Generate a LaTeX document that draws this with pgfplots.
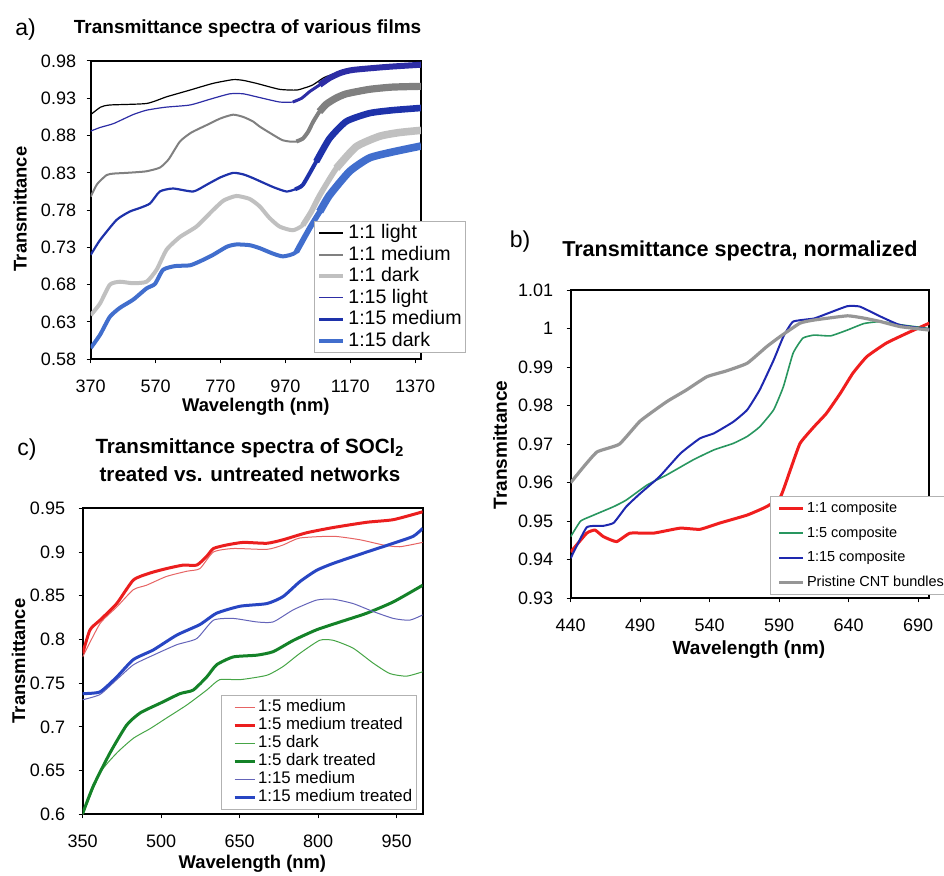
\documentclass[border=0pt]{standalone}
\usepackage{fontspec}
\setmainfont{Liberation Sans}
\usepackage{pgfplots}
\usepackage{pgfplotstable}
\pgfplotsset{compat=1.18}

\definecolor{aGm}{RGB}{128,128,128}
\definecolor{aGd}{RGB}{192,192,192}
\definecolor{aBl}{RGB}{45,45,165}
\definecolor{aBm}{RGB}{30,50,170}
\definecolor{aBd}{RGB}{65,110,205}
\definecolor{bR}{RGB}{240,30,30}
\definecolor{bG}{RGB}{40,150,95}
\definecolor{bB}{RGB}{30,40,175}
\definecolor{bGr}{RGB}{150,150,150}
\definecolor{cRt}{RGB}{230,100,100}
\definecolor{cRT}{RGB}{235,30,30}
\definecolor{cGt}{RGB}{70,165,70}
\definecolor{cGT}{RGB}{20,130,40}
\definecolor{cBt}{RGB}{100,100,185}
\definecolor{cBT}{RGB}{40,70,195}

% ---------- panel a data ----------
\pgfplotstableread{
x y
370 0.908
400 0.918
429 0.921
542 0.923
604 0.932
676 0.941
747 0.950
809 0.955
840 0.954
881 0.950
952 0.942
1004 0.941
1030 0.944
1055 0.948
1090 0.958
1130 0.964
1178 0.968
1281 0.972
1388 0.975
}\aLL
\pgfplotstableread{
x y
370 0.798
390 0.815
419 0.827
440 0.829
481 0.830
540 0.832
583 0.837
610 0.848
645 0.872
680 0.884
727 0.894
770 0.903
809 0.908
840 0.905
870 0.899
891 0.892
932 0.881
960 0.874
983 0.872
1004 0.872
1024 0.876
1040 0.885
1055 0.898
1075 0.912
1096 0.922
1125 0.930
1158 0.936
1229 0.942
1300 0.945
1388 0.946
}\aLM
\pgfplotstableread{
x y
370 0.639
399 0.655
429 0.680
460 0.684
500 0.682
542 0.684
573 0.700
604 0.727
645 0.744
696 0.758
747 0.780
780 0.793
819 0.799
860 0.795
891 0.785
920 0.770
952 0.758
993 0.753
1024 0.760
1050 0.778
1076 0.800
1127 0.836
1188 0.865
1260 0.879
1320 0.884
1388 0.887
}\aLD
\pgfplotstableread{
x y
370 0.886
400 0.891
440 0.896
500 0.908
542 0.914
600 0.918
676 0.921
740 0.929
799 0.936
840 0.936
881 0.932
952 0.925
993 0.925
1020 0.930
1045 0.939
1076 0.948
1106 0.957
1140 0.964
1178 0.968
1281 0.972
1388 0.975
}\aHL
\pgfplotstableread{
x y
370 0.720
399 0.740
450 0.767
490 0.778
522 0.783
553 0.789
583 0.805
624 0.809
686 0.805
727 0.814
770 0.824
809 0.830
840 0.828
870 0.823
932 0.811
973 0.805
1000 0.808
1024 0.814
1065 0.845
1106 0.876
1158 0.899
1229 0.910
1300 0.914
1388 0.917
}\aHM
\pgfplotstableread{
x y
370 0.595
399 0.613
429 0.637
460 0.649
501 0.660
542 0.675
568 0.681
593 0.700
630 0.705
676 0.706
710 0.712
747 0.720
790 0.731
819 0.734
860 0.733
891 0.729
930 0.722
963 0.718
1004 0.724
1045 0.756
1076 0.778
1106 0.800
1168 0.832
1229 0.850
1300 0.858
1388 0.866
}\aHD

% ---------- panel b data ----------
\pgfplotstableread{
x y
440 0.9420
451.5 0.9469
457.5 0.9477
463.5 0.9460
473 0.9447
482.7 0.9469
499.5 0.9469
518.7 0.9482
533 0.9479
547 0.9495
567 0.9516
581 0.9538
591 0.9564
598 0.9633
605 0.9702
615 0.9745
624 0.9780
634 0.9832
643 0.9884
653 0.9927
667 0.9962
682 0.9988
698 1.0014
}\bR
\pgfplotstableread{
x y
440 0.9460
447 0.9500
454 0.9512
471 0.9538
480 0.9555
495 0.9594
509 0.9620
528 0.9659
543 0.9685
557 0.9702
567 0.9720
576 0.9745
586 0.9789
593 0.9849
600 0.9936
607 0.9975
615 0.9983
627 0.9981
639 0.9996
651 1.0013
663 1.0018
679 1.0009
698 1.0000
}\bG
\pgfplotstableread{
x y
440 0.9404
451.5 0.9484
463.5 0.9488
471 0.9496
480 0.9538
490 0.9572
504 0.9616
519 0.9676
533 0.9715
543 0.9728
557 0.9758
567 0.9789
576 0.9841
586 0.9918
593 0.9979
600 1.0018
615 1.0026
624 1.0038
639 1.0058
648 1.0057
663 1.0031
677 1.0009
698 0.9998
}\bB
\pgfplotstableread{
x y
440 0.9600
449 0.9640
459 0.9680
475 0.9700
490 0.9760
509 0.9810
523 0.9840
538 0.9875
552 0.9890
567 0.9910
581 0.9953
591 0.9980
605 1.0014
615 1.0022
639 1.0033
651 1.0027
663 1.0018
677 1.0005
698 0.9996
}\bP

% ---------- panel c data ----------
\pgfplotstableread{
x y
350 0.780
383 0.818
415 0.837
447 0.857
472 0.862
510 0.872
549 0.878
574 0.881
600 0.900
638 0.904
702 0.903
733 0.908
765 0.916
829 0.918
880 0.914
925 0.908
956 0.906
1000 0.911
}\cRthin
\pgfplotstableread{
x y
350 0.784
364 0.811
383 0.822
415 0.841
447 0.868
479 0.876
510 0.881
542 0.885
568 0.885
587 0.895
600 0.904
625 0.908
657 0.911
702 0.910
733 0.914
778 0.922
829 0.928
893 0.934
944 0.937
1000 0.946
}\cRthick
\pgfplotstableread{
x y
350 0.599
383 0.647
415 0.670
447 0.687
479 0.698
510 0.710
549 0.725
587 0.742
612 0.754
651 0.754
702 0.759
733 0.769
765 0.784
803 0.799
829 0.799
867 0.790
905 0.773
937 0.761
969 0.758
1000 0.763
}\cGthin
\pgfplotstableread{
x y
350 0.601
370 0.632
402 0.670
434 0.702
460 0.716
498 0.727
536 0.738
561 0.742
587 0.757
606 0.771
638 0.780
683 0.782
714 0.786
753 0.799
797 0.811
842 0.820
893 0.830
944 0.843
1000 0.862
}\cGthick
\pgfplotstableread{
x y
350 0.731
383 0.737
415 0.754
447 0.771
485 0.782
530 0.794
568 0.801
600 0.822
638 0.824
683 0.820
714 0.820
753 0.834
797 0.845
829 0.846
867 0.841
905 0.832
944 0.824
975 0.822
1000 0.828
}\cBthin
\pgfplotstableread{
x y
350 0.738
383 0.740
415 0.757
447 0.777
485 0.788
530 0.805
574 0.817
606 0.830
651 0.838
702 0.841
733 0.849
765 0.866
797 0.879
829 0.887
893 0.900
944 0.910
982 0.918
1000 0.927
}\cBthick

\pgfplotsset{
  panel/.style={
    scale only axis,
    axis line style={line width=1pt},
    tick align=outside,
    major tick length=2pt,
    tick style={black, line width=0.5pt},
    xtick pos=bottom, ytick pos=left,
    ticklabel style={font=\fontsize{9}{10}\selectfont},
    xticklabel shift=5pt,
    label style={font=\bfseries\fontsize{9.2}{10}\selectfont},
    legend cell align=left,
    every axis plot/.append style={smooth, tension=0.35, line join=round},
  },
}

\begin{document}
\begin{tikzpicture}
\useasboundingbox (0,0) rectangle (472pt,438pt);
\node[font=\fontsize{11.5}{12}\selectfont] at (12.75pt,423pt) {a)};
\node[font=\fontsize{11.5}{12}\selectfont] at (260pt,317pt) {b)};
\node[font=\fontsize{11.5}{12}\selectfont] at (13.5pt,213pt) {c)};

% ================= panel a =================
\begin{axis}[panel,
  at={(45.35pt,258.35pt)}, anchor=south west,
  width=165.15pt, height=149.15pt,
  xmin=370, xmax=1388, ymin=0.58, ymax=0.98,
  xtick={370,570,770,970,1170,1370},
  xticklabels={370,570,770,970,1170,1370},
  ytick={0.58,0.63,0.68,0.73,0.78,0.83,0.88,0.93,0.98},
  yticklabels={0.58,0.63,0.68,0.73,0.78,0.83,0.88,0.93,0.98},
  yticklabel shift=1.8pt,
  xlabel={Wavelength (nm)}, ylabel={Transmittance},
  xlabel style={at={(axis description cs:0.5,-0.16)}, anchor=center},
  ylabel style={at={(axis description cs:-0.214,0.504)}, anchor=center},
  title={Transmittance spectra of various films},
  title style={font=\bfseries\fontsize{9.5}{11}\selectfont, at={(axis description cs:0.475,1.067)}, anchor=center},
  legend style={at={(axis description cs:0.676,0.4636)}, anchor=north west,
    draw=black!30, fill=white, font=\fontsize{9.8}{10}\selectfont,
    inner xsep=1.5pt, inner ysep=0.6pt, row sep=0.3pt, column sep=1pt,
    nodes={inner sep=0.5pt, text height=7.5pt, text depth=2pt}},
  legend image code/.code={\draw[#1, sharp plot] (0pt,0pt) -- (12pt,0pt);},
]
\addplot[black, line width=0.6pt] table {\aLL};
\addplot[aGm, line width=1pt] table {\aLM};
\addplot[aGm, line width=2pt, forget plot, restrict x to domain=1000:1400] table {\aLM};
\addplot[aGm, line width=3.6pt, forget plot, restrict x to domain=1075:1400] table {\aLM};
\addplot[aGd, line width=2pt] table {\aLD};
\addplot[aGd, line width=2.8pt, forget plot, restrict x to domain=1020:1400] table {\aLD};
\addplot[aGd, line width=3.8pt, forget plot, restrict x to domain=1100:1400] table {\aLD};
\addplot[aBl, line width=0.6pt] table {\aHL};
\addplot[aBl, line width=1.5pt, forget plot, restrict x to domain=990:1400] table {\aHL};
\addplot[aBl, line width=3pt, forget plot, restrict x to domain=1070:1400] table {\aHL};
\addplot[aBm, line width=1.1pt] table {\aHM};
\addplot[aBm, line width=2pt, forget plot, restrict x to domain=1000:1400] table {\aHM};
\addplot[aBm, line width=3.3pt, forget plot, restrict x to domain=1065:1400] table {\aHM};
\addplot[aBd, line width=2pt] table {\aHD};
\addplot[aBd, line width=2.8pt, forget plot, restrict x to domain=1004:1400] table {\aHD};
\addplot[aBd, line width=3.8pt, forget plot, restrict x to domain=1076:1400] table {\aHD};
\legend{1:1 light,1:1 medium,1:1 dark,1:15 light,1:15 medium,1:15 dark}
\end{axis}

% ================= panel b =================
\begin{axis}[panel,
  at={(285.35pt,138.85pt)}, anchor=south west,
  width=179.3pt, height=154.15pt,
  xmin=440, xmax=698, ymin=0.93, ymax=1.01,
  xtick={440,490,540,590,640,690},
  xticklabels={440,490,540,590,640,690},
  ytick={0.93,0.94,0.95,0.96,0.97,0.98,0.99,1.0,1.01},
  yticklabels={0.93,0.94,0.95,0.96,0.97,0.98,0.99,1,1.01},
  yticklabel shift=3.3pt,
  label style={font=\bfseries\fontsize{9.5}{10}\selectfont},
  xlabel={Wavelength (nm)}, ylabel={Transmittance},
  xlabel style={at={(axis description cs:0.497,-0.168)}, anchor=center},
  ylabel style={at={(axis description cs:-0.197,0.497)}, anchor=center},
  title={Transmittance spectra, normalized},
  title style={font=\bfseries\fontsize{10.8}{12}\selectfont, at={(axis description cs:0.472,1.0876)}, anchor=center},
  legend style={at={(axis description cs:0.5558,0.3318)}, anchor=north west,
    draw=black!30, fill=white, font=\fontsize{7.25}{8}\selectfont,
    inner xsep=3.5pt, inner ysep=2.2pt, row sep=4.25pt, column sep=0.7pt,
    nodes={inner sep=0.5pt, text height=5.5pt, text depth=1.5pt}},
  legend image code/.code={\draw[#1, sharp plot] (0pt,0pt) -- (12pt,0pt);},
]
\addplot[bR, line width=1.5pt, tension=0.25] table {\bR};
\addplot[bG, line width=0.8pt, tension=0.25] table {\bG};
\addplot[bB, line width=1pt, tension=0.25] table {\bB};
\addplot[bGr, line width=1.6pt, tension=0.25] table {\bP};
\legend{1:1 composite,1:5 composite,1:15 composite,Pristine CNT bundles}
\end{axis}

% ================= panel c =================
\begin{axis}[panel,
  at={(41.35pt,30.85pt)}, anchor=south west,
  width=170pt, height=153pt,
  xmin=350, xmax=1000, ymin=0.6, ymax=0.95,
  xtick={350,500,650,800,950},
  xticklabels={350,500,650,800,950},
  ytick={0.6,0.65,0.7,0.75,0.8,0.85,0.9,0.95},
  yticklabels={0.6,0.65,0.7,0.75,0.8,0.85,0.9,0.95},
  yticklabel shift=3.3pt,
  xlabel={Wavelength (nm)}, ylabel={Transmittance},
  xlabel style={at={(axis description cs:0.499,-0.162)}, anchor=center},
  ylabel style={at={(axis description cs:-0.189,0.501)}, anchor=center},
  title={Transmittance spectra of SOCl\textsubscript{2}\\treated vs. untreated networks},
  title style={align=center, font=\bfseries\fontsize{10.3}{14}\selectfont, at={(axis description cs:0.492,1.1186)}, anchor=center},
  legend style={at={(axis description cs:0.4059,0.3899)}, anchor=north west,
    draw=black!30, fill=white, font=\fontsize{8.4}{9}\selectfont,
    inner xsep=1.5pt, inner ysep=1.5pt, row sep=0pt, column sep=0.5pt,
    nodes={inner sep=0.5pt, text height=6.3pt, text depth=1.7pt}},
  legend image code/.code={\path (0pt,0pt); \draw[#1, sharp plot] (4.5pt,0pt) -- (14.5pt,0pt);},
]
\addplot[cRt, line width=0.5pt] table {\cRthin};
\addplot[cRT, line width=1.5pt] table {\cRthick};
\addplot[cGt, line width=0.5pt] table {\cGthin};
\addplot[cGT, line width=1.5pt] table {\cGthick};
\addplot[cBt, line width=0.5pt] table {\cBthin};
\addplot[cBT, line width=1.5pt] table {\cBthick};
\legend{1:5 medium,1:5 medium treated,1:5 dark,1:5 dark treated,1:15 medium,1:15 medium treated}
\end{axis}
\end{tikzpicture}
\end{document}
